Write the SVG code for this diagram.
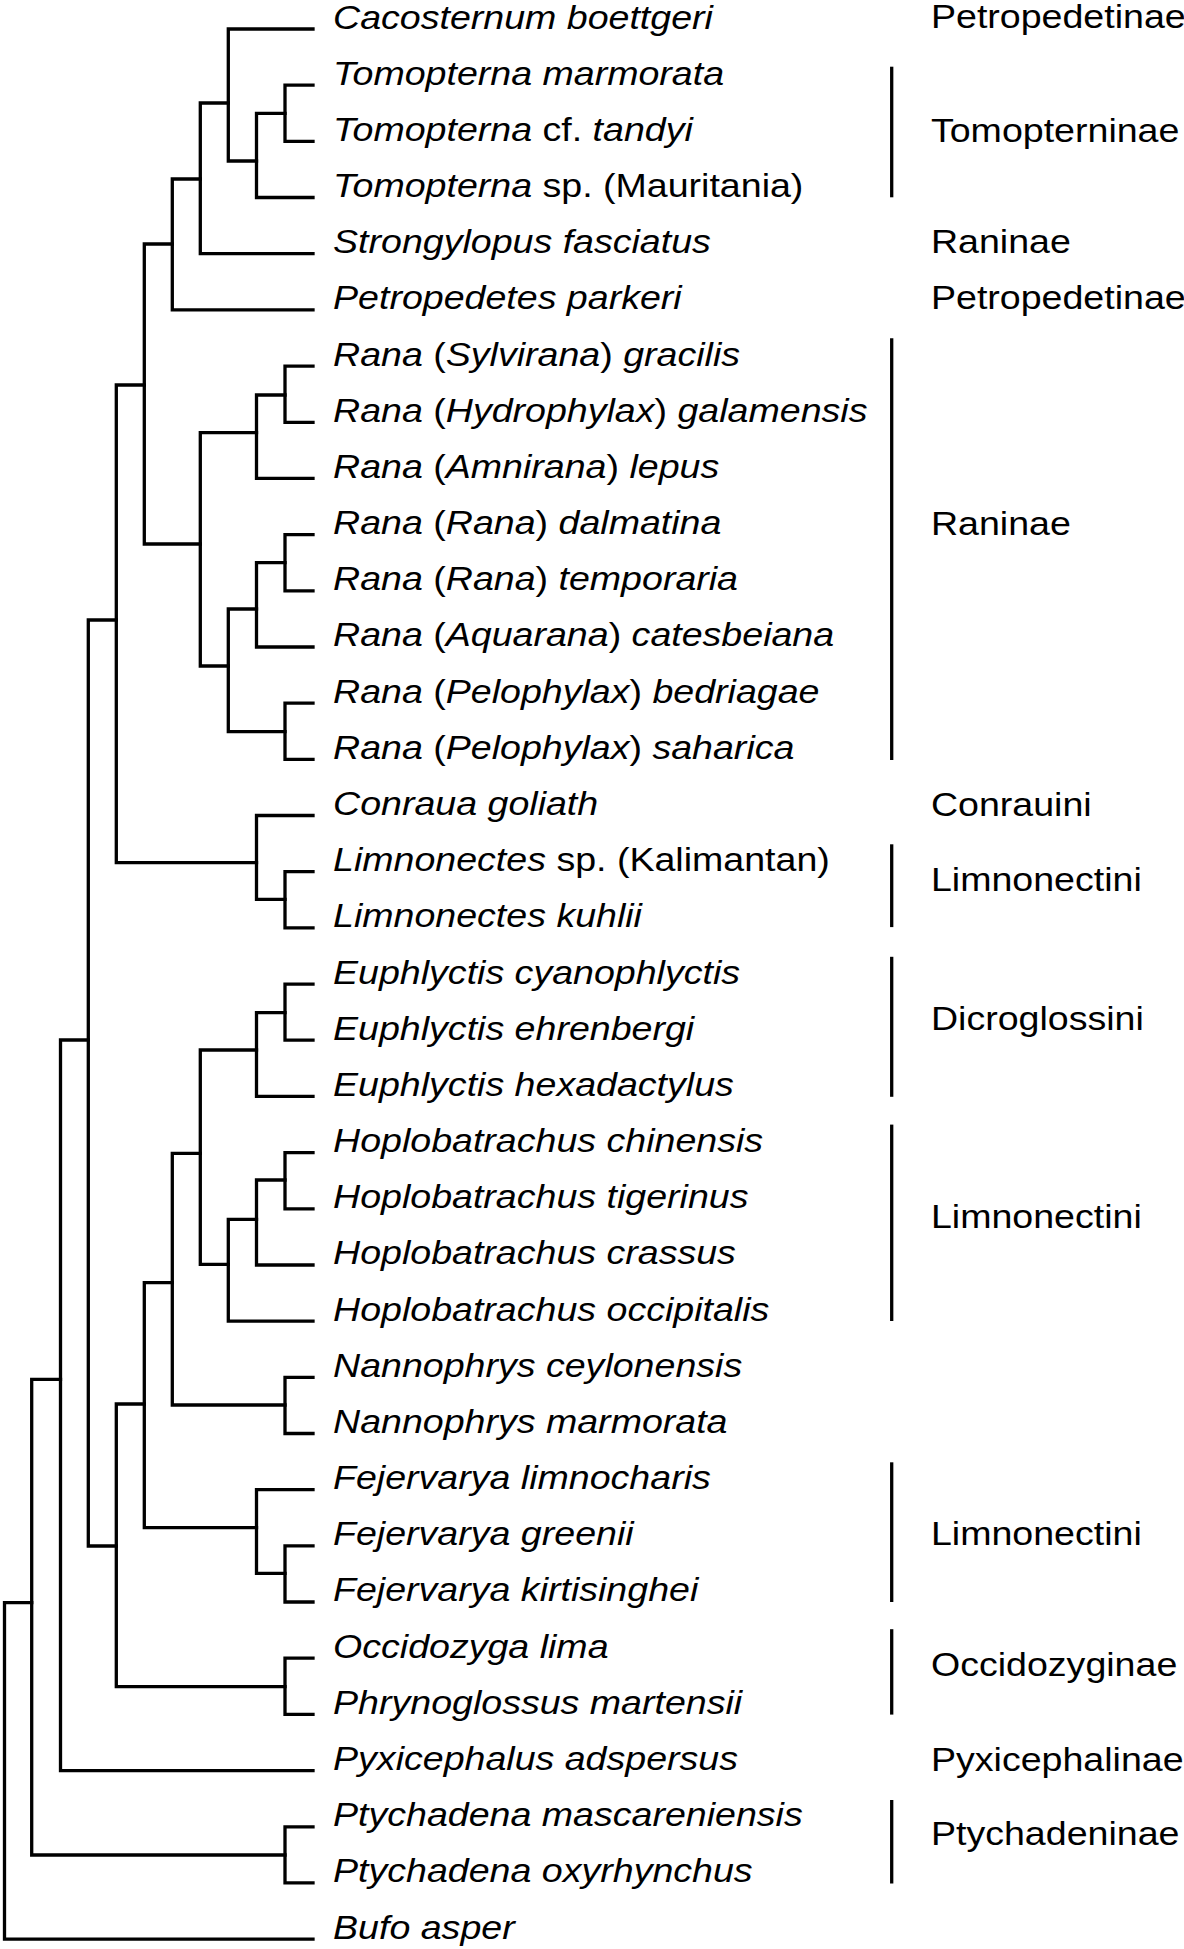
<svg xmlns="http://www.w3.org/2000/svg" width="1184" height="1949" viewBox="0 0 1184 1949">
<style>
.br{fill:none;stroke:#000;stroke-width:3.3;stroke-linecap:square;stroke-linejoin:miter}
.bar{stroke:#000;stroke-width:3.3}
text{font-family:"Liberation Sans",Arial,sans-serif;font-size:34px;fill:#000}
.i{font-style:italic}
</style>
<rect width="1184" height="1949" fill="#fff"/>
<g id="connectors">
<path class="br" d="M313,85.2 H285 V141.4 H313"/>
<path class="br" d="M285,113.3 H256.5 V197.5 H313"/>
<path class="br" d="M313,29 H228.3 V161 H256.5"/>
<path class="br" d="M228.3,103 H200.3 V253.7 H313"/>
<path class="br" d="M200.3,179 H172.3 V309.9 H313"/>
<path class="br" d="M313,366.1 H285 V422.3 H313"/>
<path class="br" d="M285,395 H256.5 V478.4 H313"/>
<path class="br" d="M313,534.6 H285 V590.8 H313"/>
<path class="br" d="M285,562.7 H256.5 V647 H313"/>
<path class="br" d="M313,703.2 H285 V759.3 H313"/>
<path class="br" d="M256.5,609 H228.3 V731.7 H285"/>
<path class="br" d="M256.5,432.7 H200.3 V666 H228.3"/>
<path class="br" d="M172.3,244 H144.3 V544 H200.3"/>
<path class="br" d="M313,871.7 H285 V927.9 H313"/>
<path class="br" d="M313,815.5 H256.5 V899.3 H285"/>
<path class="br" d="M144.3,385 H116.3 V862.7 H256.5"/>
<path class="br" d="M313,984.1 H285 V1040.2 H313"/>
<path class="br" d="M285,1012.7 H256.5 V1096.4 H313"/>
<path class="br" d="M313,1152.6 H285 V1208.8 H313"/>
<path class="br" d="M285,1180 H256.5 V1265 H313"/>
<path class="br" d="M256.5,1219.3 H228.3 V1321.1 H313"/>
<path class="br" d="M256.5,1050 H200.3 V1264.3 H228.3"/>
<path class="br" d="M313,1377.3 H285 V1433.5 H313"/>
<path class="br" d="M200.3,1153.3 H172.3 V1405 H285"/>
<path class="br" d="M313,1545.9 H285 V1602 H313"/>
<path class="br" d="M313,1489.7 H256.5 V1573.3 H285"/>
<path class="br" d="M172.3,1282.7 H144.3 V1527.7 H256.5"/>
<path class="br" d="M313,1658.2 H285 V1714.4 H313"/>
<path class="br" d="M144.3,1404 H116.3 V1686.7 H285"/>
<path class="br" d="M116.3,620 H88.3 V1546 H116.3"/>
<path class="br" d="M88.3,1040 H60.5 V1770.6 H313"/>
<path class="br" d="M313,1826.8 H285 V1882.9 H313"/>
<path class="br" d="M60.5,1379.3 H31.7 V1855 H285"/>
<path class="br" d="M31.7,1602.7 H4.5 V1939.1 H313"/>
</g>
<g id="group-bars">
<line class="bar" x1="891.7" y1="66.7" x2="891.7" y2="197.3"/>
<line class="bar" x1="891.7" y1="338.3" x2="891.7" y2="760"/>
<line class="bar" x1="891.7" y1="844.3" x2="891.7" y2="927.1"/>
<line class="bar" x1="891.7" y1="956.8" x2="891.7" y2="1096.8"/>
<line class="bar" x1="891.7" y1="1124.6" x2="891.7" y2="1321"/>
<line class="bar" x1="891.7" y1="1462.3" x2="891.7" y2="1602"/>
<line class="bar" x1="891.7" y1="1629.2" x2="891.7" y2="1714.6"/>
<line class="bar" x1="891.7" y1="1800" x2="891.7" y2="1883.5"/>
</g>
<g transform="scale(1.105 1)">
<g id="t00"><text x="301.4" y="28.5" class="i">Cacosternum boettgeri</text></g>
<g id="t01"><text x="301.4" y="84.7" class="i">Tomopterna marmorata</text></g>
<g id="t02"><text x="301.4" y="140.9"><tspan class="i">Tomopterna</tspan> cf. <tspan class="i">tandyi</tspan></text></g>
<g id="t03"><text x="301.4" y="197"><tspan class="i">Tomopterna</tspan> sp. (Mauritania)</text></g>
<g id="t04"><text x="301.4" y="253.2" class="i">Strongylopus fasciatus</text></g>
<g id="t05"><text x="301.4" y="309.4" class="i">Petropedetes parkeri</text></g>
<g id="t06"><text x="301.4" y="365.6"><tspan class="i">Rana</tspan> (<tspan class="i">Sylvirana</tspan>) <tspan class="i">gracilis</tspan></text></g>
<g id="t07"><text x="301.4" y="421.8"><tspan class="i">Rana</tspan> (<tspan class="i">Hydrophylax</tspan>) <tspan class="i">galamensis</tspan></text></g>
<g id="t08"><text x="301.4" y="477.9"><tspan class="i">Rana</tspan> (<tspan class="i">Amnirana</tspan>) <tspan class="i">lepus</tspan></text></g>
<g id="t09"><text x="301.4" y="534.1"><tspan class="i">Rana</tspan> (<tspan class="i">Rana</tspan>) <tspan class="i">dalmatina</tspan></text></g>
<g id="t10"><text x="301.4" y="590.3"><tspan class="i">Rana</tspan> (<tspan class="i">Rana</tspan>) <tspan class="i">temporaria</tspan></text></g>
<g id="t11"><text x="301.4" y="646.5"><tspan class="i">Rana</tspan> (<tspan class="i">Aquarana</tspan>) <tspan class="i">catesbeiana</tspan></text></g>
<g id="t12"><text x="301.4" y="702.7"><tspan class="i">Rana</tspan> (<tspan class="i">Pelophylax</tspan>) <tspan class="i">bedriagae</tspan></text></g>
<g id="t13"><text x="301.4" y="758.8"><tspan class="i">Rana</tspan> (<tspan class="i">Pelophylax</tspan>) <tspan class="i">saharica</tspan></text></g>
<g id="t14"><text x="301.4" y="815" class="i">Conraua goliath</text></g>
<g id="t15"><text x="301.4" y="871.2"><tspan class="i">Limnonectes</tspan> sp. (Kalimantan)</text></g>
<g id="t16"><text x="301.4" y="927.4" class="i">Limnonectes kuhlii</text></g>
<g id="t17"><text x="301.4" y="983.6" class="i">Euphlyctis cyanophlyctis</text></g>
<g id="t18"><text x="301.4" y="1039.7" class="i">Euphlyctis ehrenbergi</text></g>
<g id="t19"><text x="301.4" y="1095.9" class="i">Euphlyctis hexadactylus</text></g>
<g id="t20"><text x="301.4" y="1152.1" class="i">Hoplobatrachus chinensis</text></g>
<g id="t21"><text x="301.4" y="1208.3" class="i">Hoplobatrachus tigerinus</text></g>
<g id="t22"><text x="301.4" y="1264.5" class="i">Hoplobatrachus crassus</text></g>
<g id="t23"><text x="301.4" y="1320.6" class="i">Hoplobatrachus occipitalis</text></g>
<g id="t24"><text x="301.4" y="1376.8" class="i">Nannophrys ceylonensis</text></g>
<g id="t25"><text x="301.4" y="1433" class="i">Nannophrys marmorata</text></g>
<g id="t26"><text x="301.4" y="1489.2" class="i">Fejervarya limnocharis</text></g>
<g id="t27"><text x="301.4" y="1545.4" class="i">Fejervarya greenii</text></g>
<g id="t28"><text x="301.4" y="1601.5" class="i">Fejervarya kirtisinghei</text></g>
<g id="t29"><text x="301.4" y="1657.7" class="i">Occidozyga lima</text></g>
<g id="t30"><text x="301.4" y="1713.9" class="i">Phrynoglossus martensii</text></g>
<g id="t31"><text x="301.4" y="1770.1" class="i">Pyxicephalus adspersus</text></g>
<g id="t32"><text x="301.4" y="1826.3" class="i">Ptychadena mascareniensis</text></g>
<g id="t33"><text x="301.4" y="1882.4" class="i">Ptychadena oxyrhynchus</text></g>
<g id="t34"><text x="301.4" y="1938.6" class="i">Bufo asper</text></g>
<g id="g01"><text x="842.5" y="28">Petropedetinae</text></g>
<g id="g02"><text x="842.5" y="142">Tomopterninae</text></g>
<g id="g03"><text x="842.5" y="253">Raninae</text></g>
<g id="g04"><text x="842.5" y="309.4">Petropedetinae</text></g>
<g id="g05"><text x="842.5" y="535.5">Raninae</text></g>
<g id="g06"><text x="842.5" y="816">Conrauini</text></g>
<g id="g07"><text x="842.5" y="891.5">Limnonectini</text></g>
<g id="g08"><text x="842.5" y="1030.5">Dicroglossini</text></g>
<g id="g09"><text x="842.5" y="1228">Limnonectini</text></g>
<g id="g10"><text x="842.5" y="1545">Limnonectini</text></g>
<g id="g11"><text x="842.5" y="1676.5">Occidozyginae</text></g>
<g id="g12"><text x="842.5" y="1771">Pyxicephalinae</text></g>
<g id="g13"><text x="842.5" y="1845.5">Ptychadeninae</text></g>
</g>
</svg>
